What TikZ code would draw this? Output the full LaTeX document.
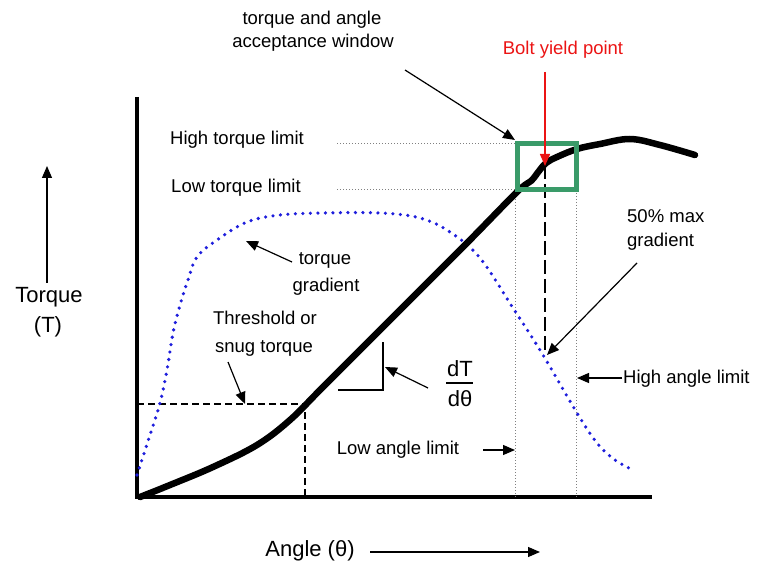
\documentclass[tikz,border=0pt]{standalone}
\usepackage{fontspec}
\setmainfont{Liberation Sans}
\usetikzlibrary{arrows.meta}
\definecolor{boxgreen}{RGB}{58,155,105}
\definecolor{dotblue}{RGB}{30,30,220}
\definecolor{yieldred}{RGB}{235,20,20}
\begin{document}
\begin{tikzpicture}[x=1pt,y=-1pt,
  lbl/.style={inner sep=0pt, font=\fontsize{18.5}{20}\selectfont},
  biglbl/.style={inner sep=0pt, font=\fontsize{22}{26}\selectfont},
  axisline/.style={line width=4.5pt},
  pointer/.style={line width=1.2pt, -{Triangle[length=12pt,width=10pt]}},
  guide/.style={gray, line width=0.9pt, dash pattern=on 1pt off 2pt},
  dashguide/.style={line width=1.2pt, dash pattern=on 7pt off 4pt},
  longdash/.style={line width=1.4pt, dash pattern=on 14pt off 5pt},
  torquecurve/.style={line width=6.5pt, line cap=round, line join=round},
  gradcurve/.style={dotblue, line width=3.6pt, line cap=round, dash pattern=on 0pt off 7.5pt},
  windowbox/.style={boxgreen, line width=5pt}
]
\useasboundingbox (0,0) rectangle (761,572);

% axes
\coordinate (origin) at (137,497);
\coordinate (ytop) at (137,97);
\coordinate (xend) at (652,497);
\draw[axisline] (ytop) -- (origin) -- (xend);

% guide lines
\coordinate (htl) at (337,143);
\coordinate (htr) at (517,143);
\coordinate (ltl) at (337,189);
\coordinate (ltr) at (517,189);
\draw[guide] (htl) -- (htr);
\draw[guide] (ltl) -- (ltr);
\coordinate (la1) at (515,190);
\coordinate (la2) at (515,497);
\coordinate (ha1) at (576,190);
\coordinate (ha2) at (576,497);
\draw[guide] (la1) -- (la2);
\draw[guide] (ha1) -- (ha2);

% threshold dashed
\coordinate (th0) at (137,404);
\coordinate (th1) at (305,404);
\coordinate (th2) at (305,497);
\draw[dashguide] (th0) -- (th1) -- (th2);

% yield dashed
\coordinate (yd1) at (545,165);
\coordinate (yd2) at (545,350);
\draw[longdash] (yd1) -- (yd2);

% torque gradient (blue dotted)
\draw[gradcurve] plot[smooth, tension=0.6] coordinates {
 (137,475) (150,435) (160,403) (167,370) (173,333) (180,305) (188,280)
 (197,257) (217,240) (247,222) (280,215) (323,213) (380,213) (420,218)
 (450,232) (480,258) (513,308) (543,355) (577,413) (597,443) (615,460) (635,471)};

% torque curve
\draw[torquecurve] plot[smooth, tension=0.6] coordinates {
 (140,497) (170,485) (213,467) (257,445) (290,420) (323,387) (390,320)
 (465,245) (517,192) (531,181) (539,171) (546,163) (557,157) (577,149)
 (600,144) (630,139) (660,145) (695,155)};

% acceptance window
\draw[windowbox] (517,144) rectangle (576,190);

% slope triangle
\coordinate (tr1) at (338,390);
\coordinate (tr2) at (383,390);
\coordinate (tr3) at (383,342);
\draw[line width=1.2pt] (tr1) -- (tr2) -- (tr3);

% labels
\node[lbl] (win1) at (312,20) {torque and angle};
\node[lbl] (win2) at (313,43) {acceptance window};
\node[lbl, text=yieldred] (yield) at (563,50) {Bolt yield point};
\node[lbl] (hightl) at (237,140) {High torque limit};
\node[lbl] (lowtl) at (236,188) {Low torque limit};
\node[lbl] (tg1) at (325,260) {torque};
\node[lbl] (tg2) at (326,287) {gradient};
\node[lbl] (snug1) at (265,318) {Threshold or};
\node[lbl] (snug2) at (264,348) {snug torque};
\node[biglbl] (dT) at (460,369) {dT};
\node[biglbl] (dth) at (460,399) {dθ};
\draw[line width=1.2pt] (446,383) -- (473,383);
\node[lbl] (lowal) at (398,450) {Low angle limit};
\node[lbl, anchor=west] (pct1) at (627,216) {50\% max};
\node[lbl, anchor=west] (pct2) at (627,242) {gradient};
\node[lbl, anchor=west] (highal) at (623,379) {High angle limit};
\node[biglbl] (tq) at (49,297) {Torque};
\node[biglbl] (tqT) at (48,327) {(T)};
\node[biglbl] (ang) at (310,551) {Angle (θ)};

% arrows
\coordinate (winA) at (405,70);
\coordinate (winB) at (515,140);
\draw[pointer] (winA) -- (winB);
\coordinate (yA) at (545,72);
\coordinate (yB) at (545,166);
\draw[pointer, yieldred, line width=1.5pt] (yA) -- (yB);
\coordinate (tgA) at (292,262);
\coordinate (tgB) at (246,241);
\draw[pointer] (tgA) -- (tgB);
\coordinate (snA) at (228,362);
\coordinate (snB) at (245,404);
\draw[pointer] (snA) -- (snB);
\coordinate (dtA) at (428,388);
\coordinate (dtB) at (385,367);
\draw[pointer] (dtA) -- (dtB);
\coordinate (laA) at (483,450);
\coordinate (laB) at (515,450);
\draw[pointer] (laA) -- (laB);
\coordinate (haA) at (622,378);
\coordinate (haB) at (577,378);
\draw[pointer] (haA) -- (haB);
\coordinate (pA) at (637,263);
\coordinate (pB) at (547,355);
\draw[pointer] (pA) -- (pB);
\coordinate (tqA) at (47,283);
\coordinate (tqB) at (47,166);
\draw[pointer] (tqA) -- (tqB);
\coordinate (angA) at (370,552);
\coordinate (angB) at (540,552);
\draw[pointer] (angA) -- (angB);
\end{tikzpicture}
\end{document}
